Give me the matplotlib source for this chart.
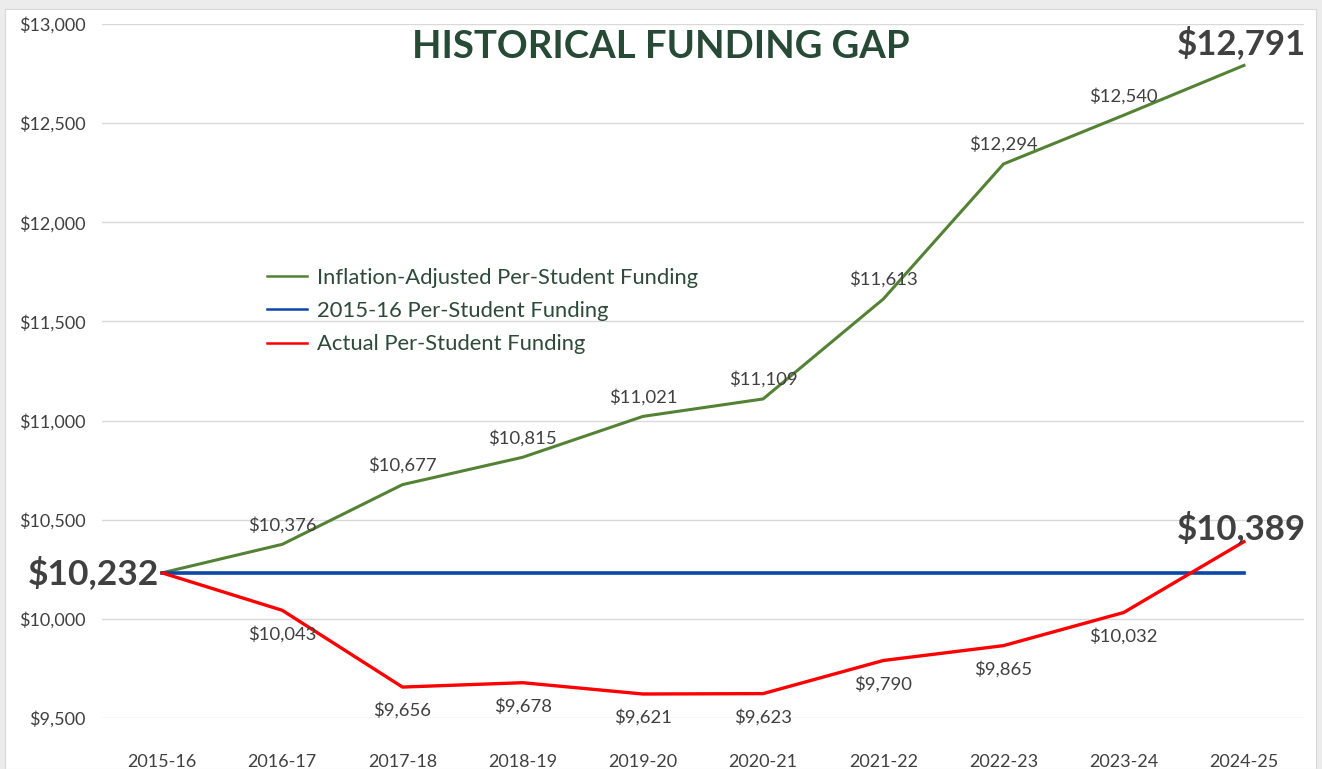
import matplotlib.pyplot as plt
from matplotlib.patches import Rectangle

# DATA

years = ["2015-16", "2016-17", "2017-18", "2018-19", "2019-20",
         "2020-21", "2021-22", "2022-23", "2023-24", "2024-25"]
inflation_adj = [10232, 10376, 10677, 10815, 11021, 11109, 11613, 12294, 12540, 12791]
base_funding = [10232] * 10
actual = [10232, 10043, 9656, 9678, 9621, 9623, 9790, 9865, 10032, 10389]
y_ticks = [9500, 10000, 10500, 11000, 11500, 12000, 12500, 13000]

GREEN = "#548235"
BLUE = "#0a47a8"
RED = "#ff0000"
TEXT = "#404040"

plt.rcParams["font.family"] = ["Lato", "DejaVu Sans"]

fig = plt.figure(figsize=(13.22, 7.69), dpi=100)
fig.patch.set_facecolor("#ececec")
bg = Rectangle((5 / 1322, 0), 1311 / 1322, 1 - 9 / 769,
               transform=fig.transFigure, facecolor="white",
               edgecolor="#d9d9d9", linewidth=0.8, zorder=-10)
fig.add_artist(bg)

ax = fig.add_axes([102 / 1322, 1 - 718 / 769, 1202 / 1322, 694 / 769])
ax.set_facecolor("none")
ax.set_zorder(1)

x = list(range(len(years)))

ax.plot(x, inflation_adj, color=GREEN, linewidth=2.2,
        label="Inflation-Adjusted Per-Student Funding", zorder=3)
ax.plot(x, base_funding, color=BLUE, linewidth=2.6,
        label="2015-16 Per-Student Funding", zorder=3)
ax.plot(x, actual, color=RED, linewidth=2.4,
        label="Actual Per-Student Funding", zorder=3)

# DATA LABELS

for i in range(1, len(years) - 1):
    ax.annotate(f"${inflation_adj[i]:,}", (i, inflation_adj[i]),
                xytext=(0, 14), textcoords="offset points",
                ha="center", va="center", fontsize=13.3, color=TEXT)
    ax.annotate(f"${actual[i]:,}", (i, actual[i]),
                xytext=(0, -17), textcoords="offset points",
                ha="center", va="center", fontsize=13.3, color=TEXT)

ax.annotate(f"${base_funding[0]:,}", (0, base_funding[0]),
            xytext=(-2, 0), textcoords="offset points",
            ha="right", va="center", fontsize=25.5, fontweight="bold", color=TEXT)
ax.annotate(f"${inflation_adj[-1]:,}", (9, inflation_adj[-1]),
            xytext=(-2, 16), textcoords="offset points",
            ha="center", va="center", fontsize=25, fontweight="bold", color=TEXT)
ax.annotate(f"${actual[-1]:,}", (9, actual[-1]),
            xytext=(-2, 10), textcoords="offset points",
            ha="center", va="center", fontsize=25, fontweight="bold", color=TEXT)

# AXES

ax.set_xlim(-0.5, 9.5)
ax.set_ylim(9500, 13000)
ax.set_xticks(x)
ax.set_xticklabels(years)
ax.set_yticks(y_ticks)
ax.set_yticklabels([f"${v:,}" for v in y_ticks])
ax.tick_params(axis="both", length=0, labelsize=13, colors=TEXT)
ax.tick_params(axis="x", pad=26)
ax.tick_params(axis="y", pad=12)
ax.grid(axis="y", color="#d9d9d9", linewidth=1)
ax.set_axisbelow(True)
for s in ax.spines.values():
    s.set_visible(False)

fig.text(0.5, 1 - 47 / 769, "HISTORICAL FUNDING GAP",
         ha="center", va="center", fontsize=27.5, fontweight="bold", color="#264a35")

leg = ax.legend(loc="upper left", bbox_to_anchor=(0.121, 0.677), frameon=False,
                fontsize=15.8, handlelength=1.8, handletextpad=0.45, labelspacing=0.6)
for t in leg.get_texts():
    t.set_color("#2e4a3a")
for h in leg.get_lines():
    h.set_linewidth(1.8)

fig.savefig("out.png", dpi=100, facecolor=fig.get_facecolor())
